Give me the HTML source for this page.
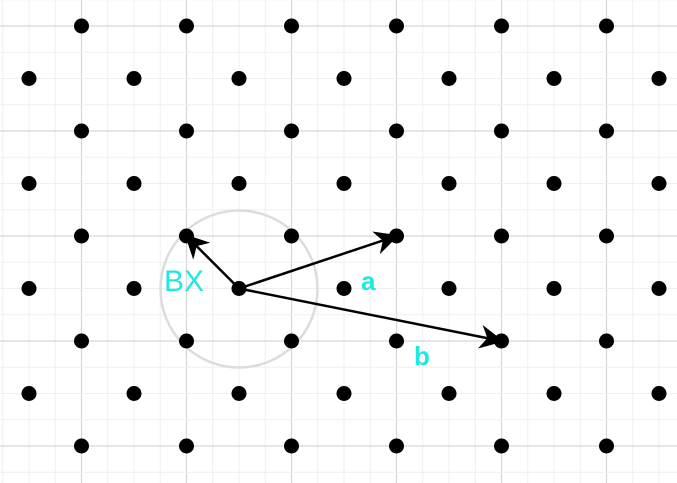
<!DOCTYPE html>
<html><head><meta charset="utf-8"><style>
html,body{margin:0;padding:0;background:#fff;}
svg{display:block;font-family:"Liberation Sans",sans-serif;}
</style></head><body>
<svg id="chart" width="677" height="483" viewBox="0 0 677 483" xmlns="http://www.w3.org/2000/svg">
<defs>
<marker id="arrBig" viewBox="0 0 10 10" refX="9" refY="5" markerWidth="28" markerHeight="24" orient="auto" markerUnits="userSpaceOnUse">
<path d="M0,0 L10,5 L0,10 L3,5 Z" fill="#000"/>
</marker>
</defs>
<g id="grid"></g>
<circle cx="239" cy="289" r="78.5" fill="none" stroke="#dcdcdc" stroke-width="2.5"/>
<g id="dots"></g>
<g id="vecs"></g>
<text x="164" y="291" font-size="30" fill="#1de9e0">BX</text>
<text x="361" y="290" font-size="26" font-weight="bold" fill="#1de9e0">a</text>
<text x="414" y="365" font-size="26" font-weight="bold" fill="#1de9e0">b</text>
</svg>
<script>
// lattice data (unit cell coordinates)
const rowIndices = [0,1,2,3,4,5,6,7,8];
const oddColumns = [0,1,2,3,4,5];
const evenColumns = [-0.5,0.5,1.5,2.5,3.5,4.5,5.5];
const vectorEnds = [[1,4],[3,4],[4,6]]; // [col,row] targets: BX, a, b
const vectorNames = ['bx-vector','vector-a','vector-b'];
const origin = [1.5,5];

const X0=81.5, DX=105, Y0=26, DY=52.5;
const sx=c=>X0+c*DX, sy=r=>Y0+r*DY;
const NS='http://www.w3.org/2000/svg';
const grid=document.getElementById('grid');
for(let k=-4;k<=26;k++){
  const x=X0+k*DX/4; if(x<-1||x>678) continue;
  const l=document.createElementNS(NS,'line');
  
  
  l.setAttribute('x1',x);l.setAttribute('x2',x);l.setAttribute('y1',0);l.setAttribute('y2',483);
  l.setAttribute('stroke',k%4===0?'#d6d6d6':'#efefef');l.setAttribute('stroke-width',k%4===0?1.2:1);
  grid.appendChild(l);
}
for(let k=-2;k<=20;k++){
  const y=Y0+k*DY/2; if(y<-1||y>484) continue;
  const l=document.createElementNS(NS,'line');
  
  
  l.setAttribute('y1',y);l.setAttribute('y2',y);l.setAttribute('x1',0);l.setAttribute('x2',677);
  l.setAttribute('stroke',k%4===0?'#d6d6d6':'#efefef');l.setAttribute('stroke-width',k%4===0?1.2:1);
  grid.appendChild(l);
}
const dots=document.getElementById('dots');
rowIndices.forEach(r=>{
  (r%2===0?oddColumns:evenColumns).forEach(c=>{
    const d=document.createElementNS(NS,'circle');
    
    
    d.setAttribute('cx',sx(c));d.setAttribute('cy',sy(r));d.setAttribute('r',7.5);d.setAttribute('fill','#000');
    dots.appendChild(d);
  });
});
const vecs=document.getElementById('vecs');
vectorEnds.forEach((e,i)=>{
  const x1=sx(origin[0]),y1=sy(origin[1]),x2=sx(e[0]),y2=sy(e[1]);
  const l=document.createElementNS(NS,'line');
  
  
  l.setAttribute('x1',x1);l.setAttribute('y1',y1);l.setAttribute('x2',x2);l.setAttribute('y2',y2);
  l.setAttribute('stroke','#000');l.setAttribute('stroke-width',2.5);
  l.setAttribute('marker-end','url(#arrBig)');
  vecs.appendChild(l);
});
</script>
</body></html>
